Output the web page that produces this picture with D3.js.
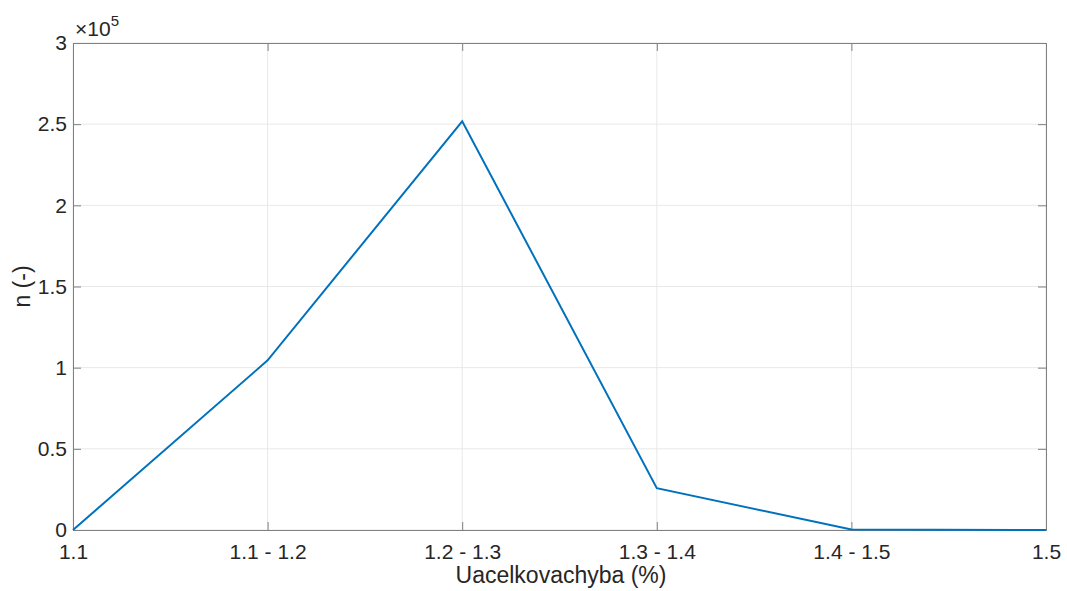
<!DOCTYPE html>
<html>
<head>
<meta charset="utf-8">
<script src="https://cdn.jsdelivr.net/npm/d3@7"></script>
<style>
  body { margin: 0; background: #fff; overflow: hidden; }
  svg { display: block; }
  text { font-family: "Liberation Sans", Arial, sans-serif; fill: #262626; }
</style>
</head>
<body>
<div id="chart"></div>
<script>
// data
var categories = ["1.1", "1.1 - 1.2", "1.2 - 1.3", "1.3 - 1.4", "1.4 - 1.5", "1.5"]
var counts = [0, 104500, 251800, 25800, 300, 0]
var yTicks = [0, 0.5, 1, 1.5, 2, 2.5, 3]   // in units of 1e5

var width = 1067
var height = 591
var margin = { top: 43, right: 21, bottom: 61, left: 73 }
var innerWidth = width - margin.left - margin.right
var innerHeight = height - margin.top - margin.bottom

var svg = d3.select('#chart').append('svg')
    .attr('width', width)
    .attr('height', height)

var g = svg.append('g')
    .attr('transform', 'translate(' + margin.left + ',' + margin.top + ')')

var xScale = d3.scalePoint()
    .domain(categories)
    .range([0, innerWidth])

var yScale = d3.scaleLinear()
    .domain([0, 3e5])
    .range([innerHeight, 0])

// grid
g.selectAll('.vgrid').data(categories).enter().append('line')
    .attr('x1', d => xScale(d)).attr('x2', d => xScale(d))
    .attr('y1', 0).attr('y2', innerHeight)
    .attr('stroke', '#e8e8e8').attr('stroke-width', 1)

g.selectAll('.hgrid').data(yTicks).enter().append('line')
    .attr('x1', 0).attr('x2', innerWidth)
    .attr('y1', d => yScale(d * 1e5)).attr('y2', d => yScale(d * 1e5))
    .attr('stroke', '#e8e8e8').attr('stroke-width', 1)

// axes (matlab style: inward ticks, box)
var xAxis = d3.axisBottom(xScale).tickSize(-8).tickPadding(14)
var yAxis = d3.axisLeft(yScale).tickValues(yTicks.map(d => d * 1e5))
    .tickFormat(d => d3.format('~g')(d / 1e5)).tickSize(-8).tickPadding(6)

var gx = g.append('g')
    .attr('transform', 'translate(0,' + innerHeight + ')')
    .call(xAxis)
var gy = g.append('g').call(yAxis)

// top/right ticks
g.append('g').call(d3.axisTop(xScale).tickSize(-8).tickFormat(''))
g.append('g').attr('transform', 'translate(' + innerWidth + ',0)')
    .call(d3.axisRight(yScale).tickValues(yTicks.map(d => d * 1e5)).tickSize(-8).tickFormat(''))

g.selectAll('.domain').attr('stroke', '#808080')
g.selectAll('.tick line').attr('stroke', '#808080')
g.selectAll('.tick text').style('font-size', '21px').attr('fill', '#262626')
gx.selectAll('.tick text').attr('dy', '0.71em')

// line
var line = d3.line()
    .x((d, i) => xScale(categories[i]))
    .y(d => yScale(d))

g.append('path')
    .datum(counts)
    .attr('d', line)
    .attr('fill', 'none')
    .attr('stroke', '#0072BD')
    .attr('stroke-width', 2)

// exponent label
var expo = svg.append('text')
    .attr('x', margin.left + 2)
    .attr('y', 36)
    .style('font-size', '21px')
expo.append('tspan').text('\u00d710')
expo.append('tspan').attr('dy', -10).style('font-size', '15px').text('5')

// axis labels
svg.append('text')
    .attr('x', 561)
    .attr('y', 583)
    .attr('text-anchor', 'middle')
    .style('font-size', '23px')
    .text('Uacelkovachyba (%)')

svg.append('text')
    .attr('transform', 'translate(30,' + (margin.top + innerHeight / 2) + ') rotate(-90)')
    .attr('text-anchor', 'middle')
    .style('font-size', '23px')
    .text('n (-)')
</script>
</body>
</html>
